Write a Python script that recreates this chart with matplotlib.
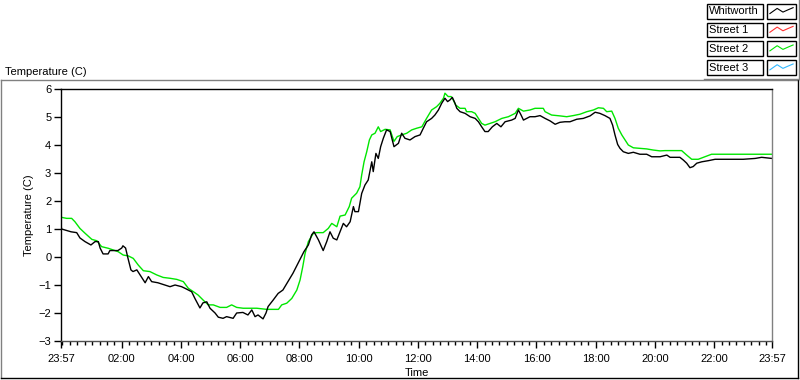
import matplotlib.pyplot as plt
from matplotlib.lines import Line2D
from matplotlib.patches import Rectangle
from matplotlib.ticker import FixedLocator, MultipleLocator

plt.rcParams['font.family'] = ['Liberation Sans', 'DejaVu Sans']
plt.rcParams['font.size'] = 8

# time in hours after midnight (start 23:57 the day before = -0.05)
whitworth_t = [-0.05, -0.03, 0.29, 0.48, 0.59, 0.76, 0.96, 1.10, 1.21, 1.27, 1.37, 1.54, 1.60,
               1.87, 2.00, 2.04, 2.13, 2.21, 2.31, 2.38, 2.51, 2.62, 2.79, 2.90, 3.01, 3.22,
               3.46, 3.63, 3.80, 4.02, 4.14, 4.36, 4.47, 4.64, 4.74, 4.87, 4.98, 5.15, 5.26,
               5.42, 5.54, 5.76, 5.88, 6.09, 6.26, 6.39, 6.50, 6.60, 6.77, 6.87, 6.94, 7.11,
               7.28, 7.44, 7.61, 7.78, 7.95, 8.15, 8.30, 8.41, 8.49, 8.64, 8.80, 8.92, 9.03,
               9.14, 9.26, 9.37, 9.48, 9.59, 9.71, 9.82, 9.87, 9.99, 10.10, 10.21, 10.32,
               10.44, 10.49, 10.58, 10.66, 10.74, 10.83, 10.94, 11.06, 11.19, 11.34, 11.45,
               11.56, 11.73, 11.90, 12.07, 12.18, 12.29, 12.46, 12.57, 12.69, 12.80, 12.91,
               13.00, 13.08, 13.16, 13.25, 13.31, 13.42, 13.59, 13.76, 13.93, 14.04, 14.15,
               14.26, 14.37, 14.51, 14.66, 14.80, 14.94, 15.16, 15.28, 15.39, 15.48, 15.56,
               15.67, 15.78, 15.95, 16.12, 16.29, 16.46, 16.63, 16.79, 16.96, 17.13, 17.36,
               17.58, 17.81, 17.98, 18.14, 18.31, 18.48, 18.57, 18.65, 18.74, 18.82, 18.93,
               19.10, 19.27, 19.49, 19.72, 19.89, 20.17, 20.40, 20.51, 20.84, 20.96, 21.07,
               21.18, 21.29, 21.41, 21.58, 21.80, 22.03, 22.48, 22.98, 23.38, 23.60, 23.95]
whitworth_v = [1.14, 1.00, 0.90, 0.87, 0.68, 0.55, 0.43, 0.55, 0.55, 0.32, 0.11, 0.11, 0.23,
               0.23, 0.32, 0.40, 0.32, -0.04, -0.46, -0.52, -0.46, -0.64, -0.92, -0.70, -0.88,
               -0.92, -1.00, -1.06, -1.00, -1.06, -1.12, -1.24, -1.48, -1.82, -1.64, -1.60,
               -1.83, -2.00, -2.15, -2.19, -2.13, -2.19, -2.00, -1.98, -2.07, -1.89, -2.13,
               -2.07, -2.21, -2.00, -1.77, -1.54, -1.30, -1.18, -0.88, -0.58, -0.23, 0.19,
               0.43, 0.79, 0.90, 0.61, 0.23, 0.55, 0.90, 0.67, 0.61, 0.90, 1.20, 1.08, 1.26,
               1.80, 1.62, 1.62, 2.27, 2.57, 2.75, 3.40, 3.05, 3.70, 3.52, 3.94, 4.24, 4.54,
               4.48, 3.94, 4.06, 4.42, 4.24, 4.18, 4.30, 4.36, 4.60, 4.83, 4.95, 5.07, 5.25,
               5.49, 5.67, 5.55, 5.61, 5.70, 5.49, 5.31, 5.19, 5.13, 5.01, 4.95, 4.83, 4.65,
               4.48, 4.48, 4.65, 4.77, 4.65, 4.83, 4.89, 4.95, 5.25, 5.07, 4.89, 4.95, 5.01,
               5.01, 5.05, 4.95, 4.86, 4.74, 4.81, 4.83, 4.83, 4.92, 4.95, 5.04, 5.17, 5.13,
               5.05, 4.95, 4.71, 4.36, 4.02, 3.88, 3.76, 3.70, 3.74, 3.67, 3.67, 3.58, 3.58,
               3.64, 3.56, 3.56, 3.46, 3.35, 3.19, 3.23, 3.35, 3.40, 3.44, 3.49, 3.49, 3.49,
               3.52, 3.56, 3.52]

street2_t = [-0.05, 0.14, 0.31, 0.42, 0.59, 0.76, 0.99, 1.16, 1.32, 1.55, 1.72, 1.88, 2.05,
             2.22, 2.39, 2.56, 2.73, 2.95, 3.18, 3.40, 3.63, 3.86, 4.08, 4.25, 4.42, 4.58,
             4.75, 4.92, 5.09, 5.32, 5.54, 5.71, 5.88, 6.10, 6.56, 6.89, 7.29, 7.40, 7.57,
             7.74, 7.91, 8.02, 8.11, 8.19, 8.30, 8.47, 8.58, 8.80, 8.97, 9.09, 9.26, 9.37,
             9.54, 9.68, 9.76, 9.93, 10.04, 10.10, 10.18, 10.27, 10.36, 10.44, 10.55, 10.66,
             10.74, 10.89, 11.06, 11.19, 11.30, 11.45, 11.62, 11.79, 11.96, 12.13, 12.29,
             12.46, 12.63, 12.74, 12.86, 12.91, 13.02, 13.12, 13.19, 13.27, 13.42, 13.59,
             13.64, 13.81, 13.93, 14.04, 14.15, 14.26, 14.43, 14.60, 14.83, 15.05, 15.28,
             15.39, 15.56, 15.78, 15.95, 16.23, 16.29, 16.51, 16.79, 17.02, 17.24, 17.47,
             17.70, 17.92, 18.09, 18.26, 18.37, 18.54, 18.65, 18.76, 18.88, 18.99, 19.10,
             19.27, 19.49, 19.72, 19.94, 20.17, 20.34, 20.90, 21.07, 21.24, 21.46, 21.69,
             21.91, 23.95]
street2_v = [1.42, 1.38, 1.38, 1.26, 1.02, 0.85, 0.63, 0.58, 0.37, 0.31, 0.25, 0.19, 0.07,
             0.04, -0.05, -0.29, -0.49, -0.52, -0.64, -0.73, -0.76, -0.80, -0.88, -1.12,
             -1.24, -1.36, -1.54, -1.71, -1.71, -1.80, -1.80, -1.71, -1.80, -1.83, -1.83,
             -1.87, -1.87, -1.71, -1.65, -1.48, -1.18, -0.82, -0.35, 0.13, 0.55, 0.85, 0.87,
             0.87, 1.02, 1.20, 1.08, 1.46, 1.50, 1.80, 2.10, 2.28, 2.51, 2.93, 3.40, 3.76,
             4.18, 4.36, 4.42, 4.65, 4.48, 4.56, 4.54, 4.13, 4.30, 4.36, 4.42, 4.54, 4.60,
             4.65, 4.95, 5.25, 5.37, 5.49, 5.67, 5.85, 5.73, 5.73, 5.61, 5.43, 5.31, 5.31,
             5.19, 5.19, 5.13, 4.95, 4.77, 4.71, 4.77, 4.83, 4.95, 5.01, 5.13, 5.31, 5.21,
             5.25, 5.31, 5.31, 5.19, 5.07, 5.04, 5.01, 5.05, 5.10, 5.19, 5.25, 5.33, 5.31,
             5.19, 5.21, 4.95, 4.60, 4.36, 4.18, 4.00, 3.90, 3.88, 3.86, 3.82, 3.79, 3.80,
             3.80, 3.64, 3.49, 3.49, 3.58, 3.67, 3.67]

legend_names = ["Whitworth", "Street 1", "Street 2", "Street 3"]
legend_colors = ["black", "#ff3030", "#00e600", "#30b8ff"]

major_ticks = [-0.05, 2, 4, 6, 8, 10, 12, 14, 16, 18, 20, 22, 23.95]
major_labels = ["23:57", "02:00", "04:00", "06:00", "08:00", "10:00", "12:00",
                "14:00", "16:00", "18:00", "20:00", "22:00", "23:57"]

fig = plt.figure(figsize=(8, 3.8), dpi=100)
W, H = 800, 380


def fx(px):
    return px / W


def fy(py):
    return 1 - py / H


# outer sunken frame of the graph
fig.add_artist(Line2D([fx(1), fx(798)], [fy(80), fy(80)], color="#808080", lw=1))
fig.add_artist(Line2D([fx(1), fx(1)], [fy(80), fy(378)], color="#808080", lw=1))
fig.add_artist(Line2D([fx(1), fx(798)], [fy(378), fy(378)], color="black", lw=1))
fig.add_artist(Line2D([fx(798), fx(798)], [fy(80), fy(378)], color="black", lw=1))

fig.text(fx(5), fy(72), "Temperature (C)", ha="left", va="center")

ax = fig.add_axes([fx(61), fy(341), fx(772) - fx(61), fy(89) - fy(341)])
ax.plot(street2_t, street2_v, color=legend_colors[2], lw=1.0)
ax.plot(whitworth_t, whitworth_v, color="black", lw=1.0)

ax.set_xlim(-0.05, 23.95)
ax.set_ylim(-3, 6)
ax.xaxis.set_major_locator(FixedLocator(major_ticks))
ax.set_xticklabels(major_labels)
ax.xaxis.set_minor_locator(MultipleLocator(0.25))
ax.yaxis.set_major_locator(MultipleLocator(1))
ax.tick_params(axis="both", which="major", length=5, width=1, pad=2, direction="out")
ax.tick_params(axis="x", which="major", pad=4)
ax.tick_params(axis="x", which="minor", length=3, width=1, direction="out")
ax.set_xlabel("Time", labelpad=3)
ax.set_ylabel("Temperature (C)", labelpad=3)
ax.spines["left"].set_color("black")
ax.spines["top"].set_color("black")
ax.spines["right"].set_color("#808080")
ax.spines["bottom"].set_color("#505050")
for s in ax.spines.values():
    s.set_linewidth(1)

# custom legend at top right
glyph_x = [0.1, 0.35, 0.55, 0.72, 0.9]
glyph_y = [0.35, 0.7, 0.45, 0.6, 0.75]
row_tops = [4, 22.7, 41.3, 60.3]
for name, col, top in zip(legend_names, legend_colors, row_tops):
    bot = top + 14.7
    fig.add_artist(Rectangle((fx(707), fy(bot)), fx(763) - fx(707), fy(top) - fy(bot),
                             fill=False, ec="black", lw=1))
    fig.text(fx(709), fy((top + bot) / 2), name, ha="left", va="center")
    fig.add_artist(Rectangle((fx(767), fy(bot)), fx(796) - fx(767), fy(top) - fy(bot),
                             fill=False, ec="black", lw=1))
    gx = [fx(767) + g * (fx(796) - fx(767)) for g in glyph_x]
    gy = [fy(bot) + g * (fy(top) - fy(bot)) for g in glyph_y]
    fig.add_artist(Line2D(gx, gy, color=col, lw=0.8))
fig.add_artist(Line2D([fx(704), fx(799)], [fy(78.5), fy(78.5)], color="#808080", lw=1))
fig.add_artist(Line2D([fx(799), fx(799)], [fy(0), fy(78.5)], color="#808080", lw=1))

fig.savefig("out.png", dpi=100)
